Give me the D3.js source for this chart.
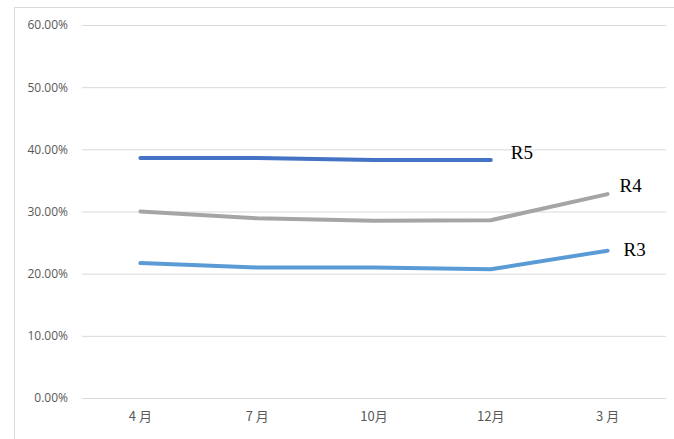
<!DOCTYPE html>
<html>
<head>
<meta charset="utf-8">
<script src="https://cdn.jsdelivr.net/npm/d3@7/dist/d3.min.js"></script>
<style>
  body { margin: 0; background: #fff; }
  svg { display: block; }
</style>
</head>
<body>
<div id="chart"></div>
<script>
// months on the x axis
var months = ["4 月", "7 月", "10月", "12月", "3 月"];
// series values (percent)
var r3 = [21.7, 21.0, 21.0, 20.7, 23.7];
var r4 = [30.0, 28.9, 28.5, 28.6, 32.8];
var r5 = [38.6, 38.6, 38.3, 38.3, null];
var yTicks = [0, 10, 20, 30, 40, 50, 60];

var series = [
  { name: "R3", values: r3, color: "#5b9bd5", dx: 16, dy: 5 },
  { name: "R4", values: r4, color: "#a5a5a5", dx: 12, dy: -2 },
  { name: "R5", values: r5, color: "#4472c4", dx: 20, dy: -1 }
];

var width = 674, height = 439;

var svg = d3.select("#chart")
  .append("svg")
    .attr("width", width)
    .attr("height", height);

// chart frame, cropped at right and bottom
svg.append("rect")
    .attr("x", 14.5).attr("y", 7.5)
    .attr("width", width + 10).attr("height", height + 10)
    .style("fill", "none")
    .style("stroke", "#d9d9d9")
    .style("stroke-width", 1);

var x = d3.scaleBand()
    .domain(months)
    .range([82, 666]);

var y = d3.scaleLinear()
    .domain([0, 60])
    .range([398, 25]);

// gridlines + y labels
var yAxis = d3.axisLeft(y)
    .tickValues(yTicks)
    .tickSize(-(666 - 82))
    .tickPadding(14)
    .tickFormat(function(d) { return d.toFixed(2) + "%"; });

var gy = svg.append("g")
    .attr("transform", "translate(82,0)")
    .call(yAxis);
gy.select(".domain").remove();
gy.selectAll("line").style("stroke", "#d9d9d9").style("stroke-width", 1);
gy.selectAll("text")
    .style("font-family", "'Open Sans', 'Noto Sans', sans-serif")
    .style("font-size", "12px")
    .style("fill", "#595959");

// x labels
var xAxis = d3.axisBottom(x).tickSize(0).tickPadding(14);
var gx = svg.append("g")
    .attr("transform", "translate(0,398)")
    .call(xAxis);
gx.select(".domain").remove();
gx.selectAll("text")
    .style("font-family", "'Noto Sans CJK JP', 'Noto Sans', sans-serif")
    .style("font-size", "13px")
    .style("white-space", "pre")
    .style("fill", "#595959");

var line = d3.line()
    .defined(function(d) { return d != null; })
    .x(function(d, i) { return x(months[i]) + x.bandwidth() / 2; })
    .y(function(d) { return y(d); });

svg.selectAll("path.series")
  .data(series)
  .enter()
  .append("path")
    .attr("class", "series")
    .attr("d", function(s) { return line(s.values); })
    .style("fill", "none")
    .style("stroke", function(s) { return s.color; })
    .style("stroke-width", 4)
    .style("stroke-linecap", "round")
    .style("stroke-linejoin", "round");

// series labels next to the last point
svg.selectAll("text.label")
  .data(series)
  .enter()
  .append("text")
    .attr("class", "label")
    .attr("x", function(s) {
      var i = s.values.length - 1;
      while (s.values[i] == null) i--;
      return x(months[i]) + x.bandwidth() / 2 + s.dx;
    })
    .attr("y", function(s) {
      var i = s.values.length - 1;
      while (s.values[i] == null) i--;
      return y(s.values[i]) + s.dy;
    })
    .text(function(s) { return s.name; })
    .style("font-family", "'Liberation Serif', 'DejaVu Serif', serif")
    .style("font-size", "19px")
    .style("fill", "#000");
</script>
</body>
</html>
